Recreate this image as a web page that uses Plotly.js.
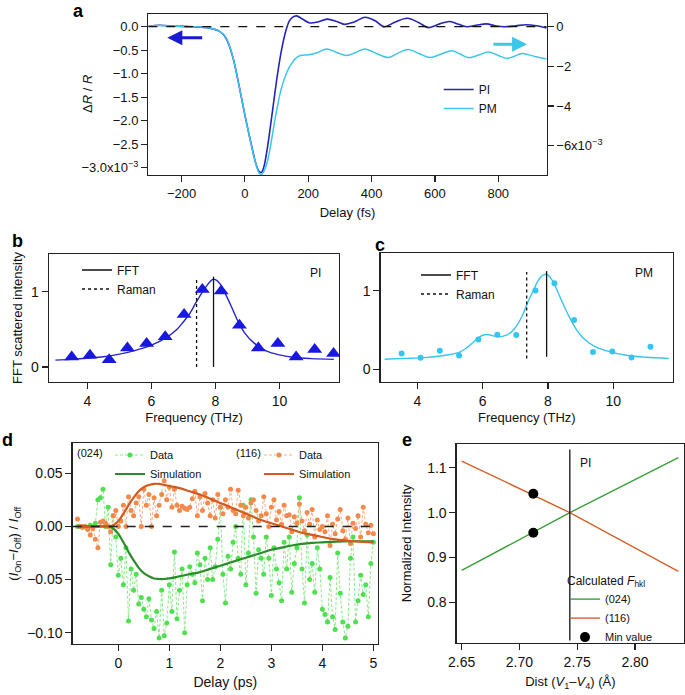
<!DOCTYPE html>
<html><head><meta charset="utf-8">
<script src="https://cdn.plot.ly/plotly-3.0.1.min.js"></script>
<style>html,body{margin:0;padding:0;background:#fff}#chart{width:685px;height:695px}</style>
</head><body><div id="chart"></div>
<script>
// ---------- Panel a: transient reflectivity ----------
const aDelayPI = [-305,-270,-220,-165,-112,-80,-60,-40,-20,0,20,35,45,52,60,70,80,90,100,110,120,131,140,150,163,180,205,230,260,290,315,345,379,410,440,475,513,548,580,615,647,675,700,730,763,790,820,855,888,920,953];
const aPI = [0.01,0.03,0.01,0.0,-0.03,-0.1,-0.24,-0.6,-1.2,-1.88,-2.5,-2.92,-3.08,-3.1,-2.98,-2.62,-2.15,-1.65,-1.15,-0.71,-0.35,-0.05,0.12,0.2,0.23,0.17,0.08,0.1,0.16,0.11,0.05,0.1,0.2,0.13,0.0,0.1,0.18,0.09,-0.02,0.06,0.11,0.05,0.0,0.03,0.06,0.02,0.0,0.02,0.04,0.02,-0.03];
const aDelayPM = [-305,-270,-220,-165,-112,-80,-60,-40,-20,0,20,35,45,52,60,70,80,90,100,110,120,130,140,150,160,175,200,230,258,290,321,350,379,415,453,485,516,550,585,620,653,680,706,740,769,800,827,850,875,915,953];
const aPM = [0.03,0.06,0.02,0.0,-0.07,-0.24,-0.55,-1.4,-2.85,-4.45,-5.95,-6.95,-7.38,-7.45,-7.3,-6.85,-6.1,-5.15,-4.25,-3.45,-2.85,-2.4,-2.05,-1.8,-1.6,-1.45,-1.42,-1.3,-1.12,-1.3,-1.45,-1.3,-1.12,-1.35,-1.55,-1.32,-1.15,-1.35,-1.56,-1.38,-1.22,-1.38,-1.56,-1.42,-1.28,-1.45,-1.6,-1.5,-1.35,-1.5,-1.63];
const aLeftTicks = [0,-0.5,-1,-1.5,-2,-2.5,-3];
const aLeftText = ['0.0','−0.5','−1.0','−1.5','−2.0','−2.5','−3.0x10<sup>−3</sup>'];
const aRightTicks = [0,-2,-4,-6];
const aRightText = ['0','−2','−4','−6x10<sup>−3</sup>'];
const aXTicks = [-200,0,200,400,600,800];

// ---------- Panel b: PI FFT ----------
const bFreq = [3.51,4.08,4.68,5.25,5.85,6.43,7.02,7.59,8.18,8.75,9.34,9.95,10.52,11.10,11.69];
const bData = [0.133,0.155,0.097,0.25,0.31,0.40,0.695,1.03,1.01,0.553,0.252,0.31,0.133,0.23,0.177];
const bFitFreq = [3.0,3.5,4.0,4.5,5.0,5.5,6.0,6.5,6.8,7.0,7.2,7.4,7.6,7.75,7.9,8.0,8.15,8.3,8.5,8.7,8.9,9.2,9.6,10.0,10.5,11.0,11.7];
const bFit = [0.09,0.10,0.115,0.135,0.17,0.22,0.29,0.40,0.50,0.60,0.71,0.86,1.0,1.09,1.16,1.16,1.10,0.98,0.80,0.61,0.46,0.32,0.21,0.16,0.125,0.11,0.10];
const bFFTx = [7.94,7.94], bFFTy = [0,1.2];
const bRamanX = [7.41,7.41], bRamanY = [0,1.16];

// ---------- Panel c: PM FFT ----------
const cFreq = [3.52,4.10,4.69,5.28,5.87,6.45,7.03,7.62,8.20,8.80,9.38,9.97,10.56,11.14];
const cData = [0.203,0.148,0.237,0.178,0.381,0.44,0.436,1.004,1.097,0.627,0.22,0.229,0.153,0.288];
const cFitFreq = [3.0,3.6,4.2,4.7,5.0,5.3,5.5,5.7,5.9,6.05,6.2,6.4,6.6,6.8,7.0,7.2,7.4,7.55,7.7,7.85,7.95,8.05,8.2,8.35,8.5,8.7,8.9,9.1,9.4,9.8,10.4,11.0,11.7];
const cFit = [0.13,0.14,0.15,0.17,0.19,0.22,0.27,0.34,0.41,0.44,0.44,0.42,0.42,0.45,0.53,0.67,0.87,1.0,1.13,1.2,1.21,1.18,1.08,0.94,0.8,0.63,0.49,0.39,0.3,0.235,0.18,0.155,0.14];
const cFFTx = [7.96,7.96], cFFTy = [0.16,1.25];
const cRamanX = [7.35,7.35], cRamanY = [0.14,1.24];

// ---------- Panel d: diffraction intensity change ----------
const dDelay = [-0.8,-0.75,-0.7,-0.65,-0.6,-0.55,-0.5,-0.45,-0.4,-0.35,-0.3,-0.25,-0.2,-0.15,-0.1,-0.05,0,0.05,0.1,0.15,0.2,0.25,0.3,0.35,0.4,0.45,0.5,0.55,0.6,0.65,0.7,0.75,0.8,0.85,0.9,0.95,1.0,1.05,1.1,1.15,1.2,1.25,1.3,1.35,1.4,1.45,1.5,1.55,1.6,1.65,1.7,1.75,1.8,1.85,1.9,1.95,2.0,2.05,2.1,2.15,2.2,2.25,2.3,2.35,2.4,2.45,2.5,2.55,2.6,2.65,2.7,2.75,2.8,2.85,2.9,2.95,3.0,3.05,3.1,3.15,3.2,3.25,3.3,3.35,3.4,3.45,3.5,3.55,3.6,3.65,3.7,3.75,3.8,3.85,3.9,3.95,4.0,4.05,4.1,4.15,4.2,4.25,4.3,4.35,4.4,4.45,4.5,4.55,4.6,4.65,4.7,4.75,4.8,4.85,4.9,4.95,5.0];
const d024 = [0.000,0.000,-0.001,0.000,-0.002,0.001,0.000,0.003,0.025,0.027,0.035,0.000,0.018,-0.036,0.010,-0.010,-0.046,-0.030,-0.055,-0.020,-0.089,-0.040,-0.060,-0.045,-0.073,-0.067,-0.078,-0.085,-0.068,-0.088,-0.096,-0.080,-0.105,-0.060,-0.103,-0.091,-0.055,-0.080,-0.024,-0.087,-0.060,-0.040,-0.100,-0.055,-0.038,-0.045,-0.053,-0.025,-0.036,-0.070,-0.030,-0.050,-0.020,-0.050,-0.038,-0.012,0.018,-0.045,-0.072,-0.028,-0.040,-0.015,0.000,-0.030,-0.045,0.020,-0.055,-0.025,0.025,-0.010,-0.063,-0.022,-0.030,-0.045,-0.010,-0.030,-0.065,-0.020,-0.040,-0.053,-0.070,-0.015,-0.040,-0.010,-0.062,-0.035,-0.020,0.027,-0.040,-0.072,-0.008,-0.050,-0.035,-0.062,-0.020,-0.040,-0.078,-0.083,-0.090,-0.048,-0.085,-0.097,-0.025,-0.063,-0.090,-0.105,-0.094,-0.030,-0.010,-0.090,-0.070,-0.046,-0.064,-0.055,-0.085,-0.035,-0.015];
const d116 = [0.007,0.000,0.000,0.000,-0.003,-0.008,-0.002,-0.012,-0.020,0.004,0.005,0.003,0.000,-0.005,0.010,0.015,0.000,0.005,0.020,0.000,0.028,0.015,0.010,0.022,0.028,0.000,0.035,0.020,0.030,0.000,0.027,0.010,0.020,0.030,0.043,0.025,0.037,0.018,0.035,0.020,0.015,0.019,0.017,0.016,0.018,0.026,0.033,0.010,0.028,0.015,0.031,0.022,0.010,0.025,0.008,0.030,0.018,0.012,0.025,0.018,0.035,0.015,0.012,0.034,0.020,0.010,0.018,0.008,0.022,0.025,0.015,0.005,0.010,0.028,0.012,0.000,0.018,0.025,0.006,0.014,0.002,0.020,0.010,0.011,-0.005,0.009,0.003,0.021,0.005,-0.004,0.013,0.002,0.016,-0.010,0.006,-0.003,0.000,-0.005,0.010,-0.018,0.002,-0.007,0.007,0.016,-0.004,-0.012,0.008,-0.016,0.003,-0.002,0.010,-0.010,0.018,0.002,-0.006,0.001,-0.007];
const dSimDelay = [-0.8,-0.6,-0.4,-0.3,-0.2,-0.1,0,0.1,0.2,0.3,0.4,0.5,0.6,0.7,0.8,0.9,1.0,1.2,1.4,1.6,1.8,2.0,2.2,2.4,2.6,2.8,3.0,3.2,3.4,3.6,3.8,4.0,4.2,4.4,4.6,4.8,5.0];
const dSim024 = [0,0,0,0,0,-0.002,-0.007,-0.015,-0.024,-0.032,-0.039,-0.044,-0.047,-0.049,-0.0495,-0.0495,-0.049,-0.047,-0.045,-0.043,-0.040,-0.037,-0.034,-0.031,-0.028,-0.025,-0.022,-0.020,-0.018,-0.0165,-0.0155,-0.015,-0.0145,-0.0142,-0.014,-0.014,-0.014];
const dSim116 = [0,0,0,0,0,0.001,0.005,0.012,0.020,0.027,0.033,0.037,0.039,0.040,0.040,0.039,0.038,0.036,0.033,0.030,0.026,0.022,0.018,0.014,0.010,0.006,0.003,0.000,-0.003,-0.006,-0.008,-0.010,-0.012,-0.013,-0.014,-0.0145,-0.015];

// ---------- Panel e: calculated structure factors ----------
const eDist = [2.65,2.7436,2.8375];
const e024 = [0.871,1.0,1.1225];
const e116 = [1.115,1.0,0.869];
const ePIx = [2.7436,2.7436], ePIy = [0.715,1.141];
const eMinDist = [2.712,2.712];
const eMinVal = [1.042,0.955];

// ---------- layout helpers ----------
const W = 685, H = 695;
const F = 'Liberation Sans, Arial, Helvetica, sans-serif';
const dx = (a,b) => [a/W, b/W];
const dy = (top,bot) => [1-bot/H, 1-top/H];
const base = {showline:true, linecolor:'#222', linewidth:1.3, mirror:true, ticks:'outside', ticklen:6,
  tickwidth:1.2, tickcolor:'#222', showgrid:false, zeroline:false, fixedrange:true,
  tickfont:{size:13, color:'#111', family:F}};
const big = {tickfont:{size:14, color:'#111', family:F}};
const ttl = (t, s, sz) => ({text:t, font:{size:sz||13, color:'#111', family:F}, standoff:s});
const leg = (gx, gy, fs, extra) => Object.assign({x:(gx-8)/W, y:1-(gy-10)/H, xanchor:'left', yanchor:'top',
  bgcolor:'rgba(0,0,0,0)', borderwidth:0, itemwidth:30, tracegroupgap:0,
  font:{size:fs, color:'#111', family:F}}, extra||{});

const PIc = '#2424b8', PMc = '#3cc6ec';
const traces = [
  // a
  {x:aDelayPI, y:aPI, xaxis:'x', yaxis:'y', mode:'lines', name:'PI', line:{color:PIc, width:1.6, shape:'spline'}, legend:'legend'},
  {x:aDelayPM, y:aPM, xaxis:'x', yaxis:'y2', mode:'lines', name:'PM', line:{color:PMc, width:1.5, shape:'spline'}, legend:'legend'},
  // b
  {x:bFitFreq, y:bFit, xaxis:'x2', yaxis:'y3', mode:'lines', line:{color:'#2626c8', width:1.4, shape:'spline'}, showlegend:false},
  {x:bFreq, y:bData, xaxis:'x2', yaxis:'y3', mode:'markers', marker:{symbol:'triangle-up', size:13, color:'#1818e0'}, showlegend:false},
  {x:bFFTx, y:bFFTy, xaxis:'x2', yaxis:'y3', mode:'lines', name:'FFT', line:{color:'#111', width:1.3}, legend:'legend2'},
  {x:bRamanX, y:bRamanY, xaxis:'x2', yaxis:'y3', mode:'lines', name:'Raman', line:{color:'#111', width:1.3, dash:'dot'}, legend:'legend2'},
  // c
  {x:cFitFreq, y:cFit, xaxis:'x3', yaxis:'y4', mode:'lines', line:{color:'#35c6ee', width:1.4, shape:'spline'}, showlegend:false},
  {x:cFreq, y:cData, xaxis:'x3', yaxis:'y4', mode:'markers', marker:{symbol:'circle', size:6, color:'#35c6ee'}, showlegend:false},
  {x:cFFTx, y:cFFTy, xaxis:'x3', yaxis:'y4', mode:'lines', name:'FFT', line:{color:'#111', width:1.3}, legend:'legend3'},
  {x:cRamanX, y:cRamanY, xaxis:'x3', yaxis:'y4', mode:'lines', name:'Raman', line:{color:'#111', width:1.3, dash:'dot'}, legend:'legend3'},
  // d
  {x:dDelay, y:d024, xaxis:'x4', yaxis:'y5', mode:'lines+markers', name:'Data', marker:{size:5, color:'#4ee04e'}, line:{color:'#7ae87a', width:0.9, dash:'3px,2px'}, legend:'legend4'},
  {x:dDelay, y:d116, xaxis:'x4', yaxis:'y5', mode:'lines+markers', name:'Data', marker:{size:5, color:'#f5894a'}, line:{color:'#f5a478', width:0.9, dash:'3px,2px'}, legend:'legend5'},
  {x:dSimDelay, y:dSim024, xaxis:'x4', yaxis:'y5', mode:'lines', name:'Simulation', line:{color:'#2a8c2a', width:2.2, shape:'spline'}, legend:'legend4'},
  {x:dSimDelay, y:dSim116, xaxis:'x4', yaxis:'y5', mode:'lines', name:'Simulation', line:{color:'#d35a1e', width:2.2, shape:'spline'}, legend:'legend5'},
  // e
  {x:eDist, y:e024, xaxis:'x5', yaxis:'y6', mode:'lines', name:'(024)', line:{color:'#3a9e3a', width:1.4}, legend:'legend6'},
  {x:eDist, y:e116, xaxis:'x5', yaxis:'y6', mode:'lines', name:'(116)', line:{color:'#d3622a', width:1.4}, legend:'legend6'},
  {x:ePIx, y:ePIy, xaxis:'x5', yaxis:'y6', mode:'lines', line:{color:'#111', width:1.3}, showlegend:false},
  {x:eMinDist, y:eMinVal, xaxis:'x5', yaxis:'y6', mode:'markers', name:'Min value', marker:{size:10, color:'#000'}, legend:'legend6'}
];

const ann = (t, px, py, opt) => Object.assign({text:t, x:px/W, y:1-py/H, xref:'paper', yref:'paper', showarrow:false,
  xanchor:'center', yanchor:'middle', font:{size:12, color:'#111', family:F}}, opt||{});
const lab = (t, px, py) => ann('<b>'+t+'</b>', px, py, {font:{size:18, color:'#000', family:F}});

const layout = {
  width:W, height:H, margin:{l:0,r:0,t:0,b:0}, paper_bgcolor:'#fff', plot_bgcolor:'#fff',
  font:{family:F, color:'#111'},
  xaxis: Object.assign({}, base, {domain:dx(148.3,546.7), range:[-305,953], tickvals:aXTicks, anchor:'y', title:ttl('Delay (fs)',8)}),
  yaxis: Object.assign({}, base, {domain:dy(14,175), range:[-3.155,0.27], tickvals:aLeftTicks, ticktext:aLeftText, anchor:'x'}),
  yaxis2: Object.assign({}, base, {overlaying:'y', side:'right', anchor:'x', range:[-7.479,0.639], tickvals:aRightTicks, ticktext:aRightText, showline:false, mirror:false}),
  xaxis2: Object.assign({}, base, big, {domain:dx(49,339), range:[2.80,11.86], tickvals:[4,6,8,10], anchor:'y3', title:ttl('Frequency (THz)',4)}),
  yaxis3: Object.assign({}, base, big, {domain:dy(254,382), range:[-0.2,1.5], tickvals:[0,1], anchor:'x2', title:ttl('FFT scattered intensity',5)}),
  xaxis3: Object.assign({}, base, big, {domain:dx(380.7,673), range:[2.88,11.83], tickvals:[4,6,8,10], anchor:'y4', title:ttl('Frequency (THz)',4)}),
  yaxis4: Object.assign({}, base, big, {domain:dy(253,382), range:[-0.16,1.48], tickvals:[0,1], anchor:'x3'}),
  xaxis4: Object.assign({}, base, big, {domain:dx(72.7,378), range:[-0.894,5.09], tickvals:[0,1,2,3,4,5], anchor:'y5', title:ttl('Delay (ps)',7,14)}),
  yaxis5: Object.assign({}, base, big, {domain:dy(443.3,644), range:[-0.1107,0.0782], tickvals:[-0.1,-0.05,0,0.05], tickformat:'.2f', anchor:'x4',
    title:ttl('(<i>I</i><sub>On</sub>−<i>I</i><sub>Off</sub>) / <i>I</i><sub>Off</sub>',5)}),
  xaxis5: Object.assign({}, base, big, {domain:dx(456.7,684), range:[2.6457,2.8424], tickvals:[2.65,2.70,2.75,2.80], tickformat:'.2f', anchor:'y6',
    title:ttl('Dist (<i>V</i><sub>1</sub>–<i>V</i><sub>4</sub>) (Å)',8)}),
  yaxis6: Object.assign({}, base, big, {domain:dy(444,642.7), range:[0.710,1.153], tickvals:[0.8,0.9,1.0,1.1], tickformat:'.1f', anchor:'x5',
    title:ttl('Normalized Intensity',12)}),
  legend: leg(446.7, 85, 12),
  legend2: leg(85, 265.5, 12),
  legend3: leg(424, 270.5, 12),
  legend4: leg(118, 450.5, 11),
  legend5: leg(267, 450.5, 11),
  legend6: leg(573, 595, 11, {y:1-(569)/H, title:{text:'Calculated <i>F</i><sub>hkl</sub>', font:{size:12, color:'#111', family:F}}}),
  shapes: [
    {type:'line', xref:'x', yref:'y', x0:-305, x1:953, y0:0, y1:0, line:{color:'#111', width:1.3, dash:'dash'}, layer:'above'},
    {type:'line', xref:'x4', yref:'y5', x0:-0.894, x1:5.09, y0:0, y1:0, line:{color:'#222', width:1.5, dash:'dash'}, layer:'above'}
  ],
  annotations: [
    lab('a', 78, 11), lab('b', 17, 241), lab('c', 380, 245), lab('d', 7, 440), lab('e', 407, 440),
    ann('Δ<i>R</i> / <i>R</i>', 87, 94, {textangle:-90, font:{size:13, color:'#111', family:F}}),
    {x:-245, y:-0.234, xref:'x', yref:'y', ax:-130, ay:-0.234, axref:'x', ayref:'y', text:'', showarrow:true,
      arrowhead:2, arrowsize:1, arrowwidth:3, arrowcolor:'#1a1ad0'},
    {x:891, y:-0.89, xref:'x', yref:'y2', ax:780, ay:-0.89, axref:'x', ayref:'y2', text:'', showarrow:true,
      arrowhead:2, arrowsize:1, arrowwidth:3, arrowcolor:PMc},
    ann('PI', 315, 273), ann('PM', 644, 273),
    ann('(024)', 90, 453, {font:{size:11, color:'#111', family:F}}), ann('(116)', 248, 453, {font:{size:11, color:'#111', family:F}}),
    ann('PI', 585, 463)
  ]
};

Plotly.newPlot('chart', traces, layout, {displayModeBar:false, staticPlot:true});
</script></body></html>
